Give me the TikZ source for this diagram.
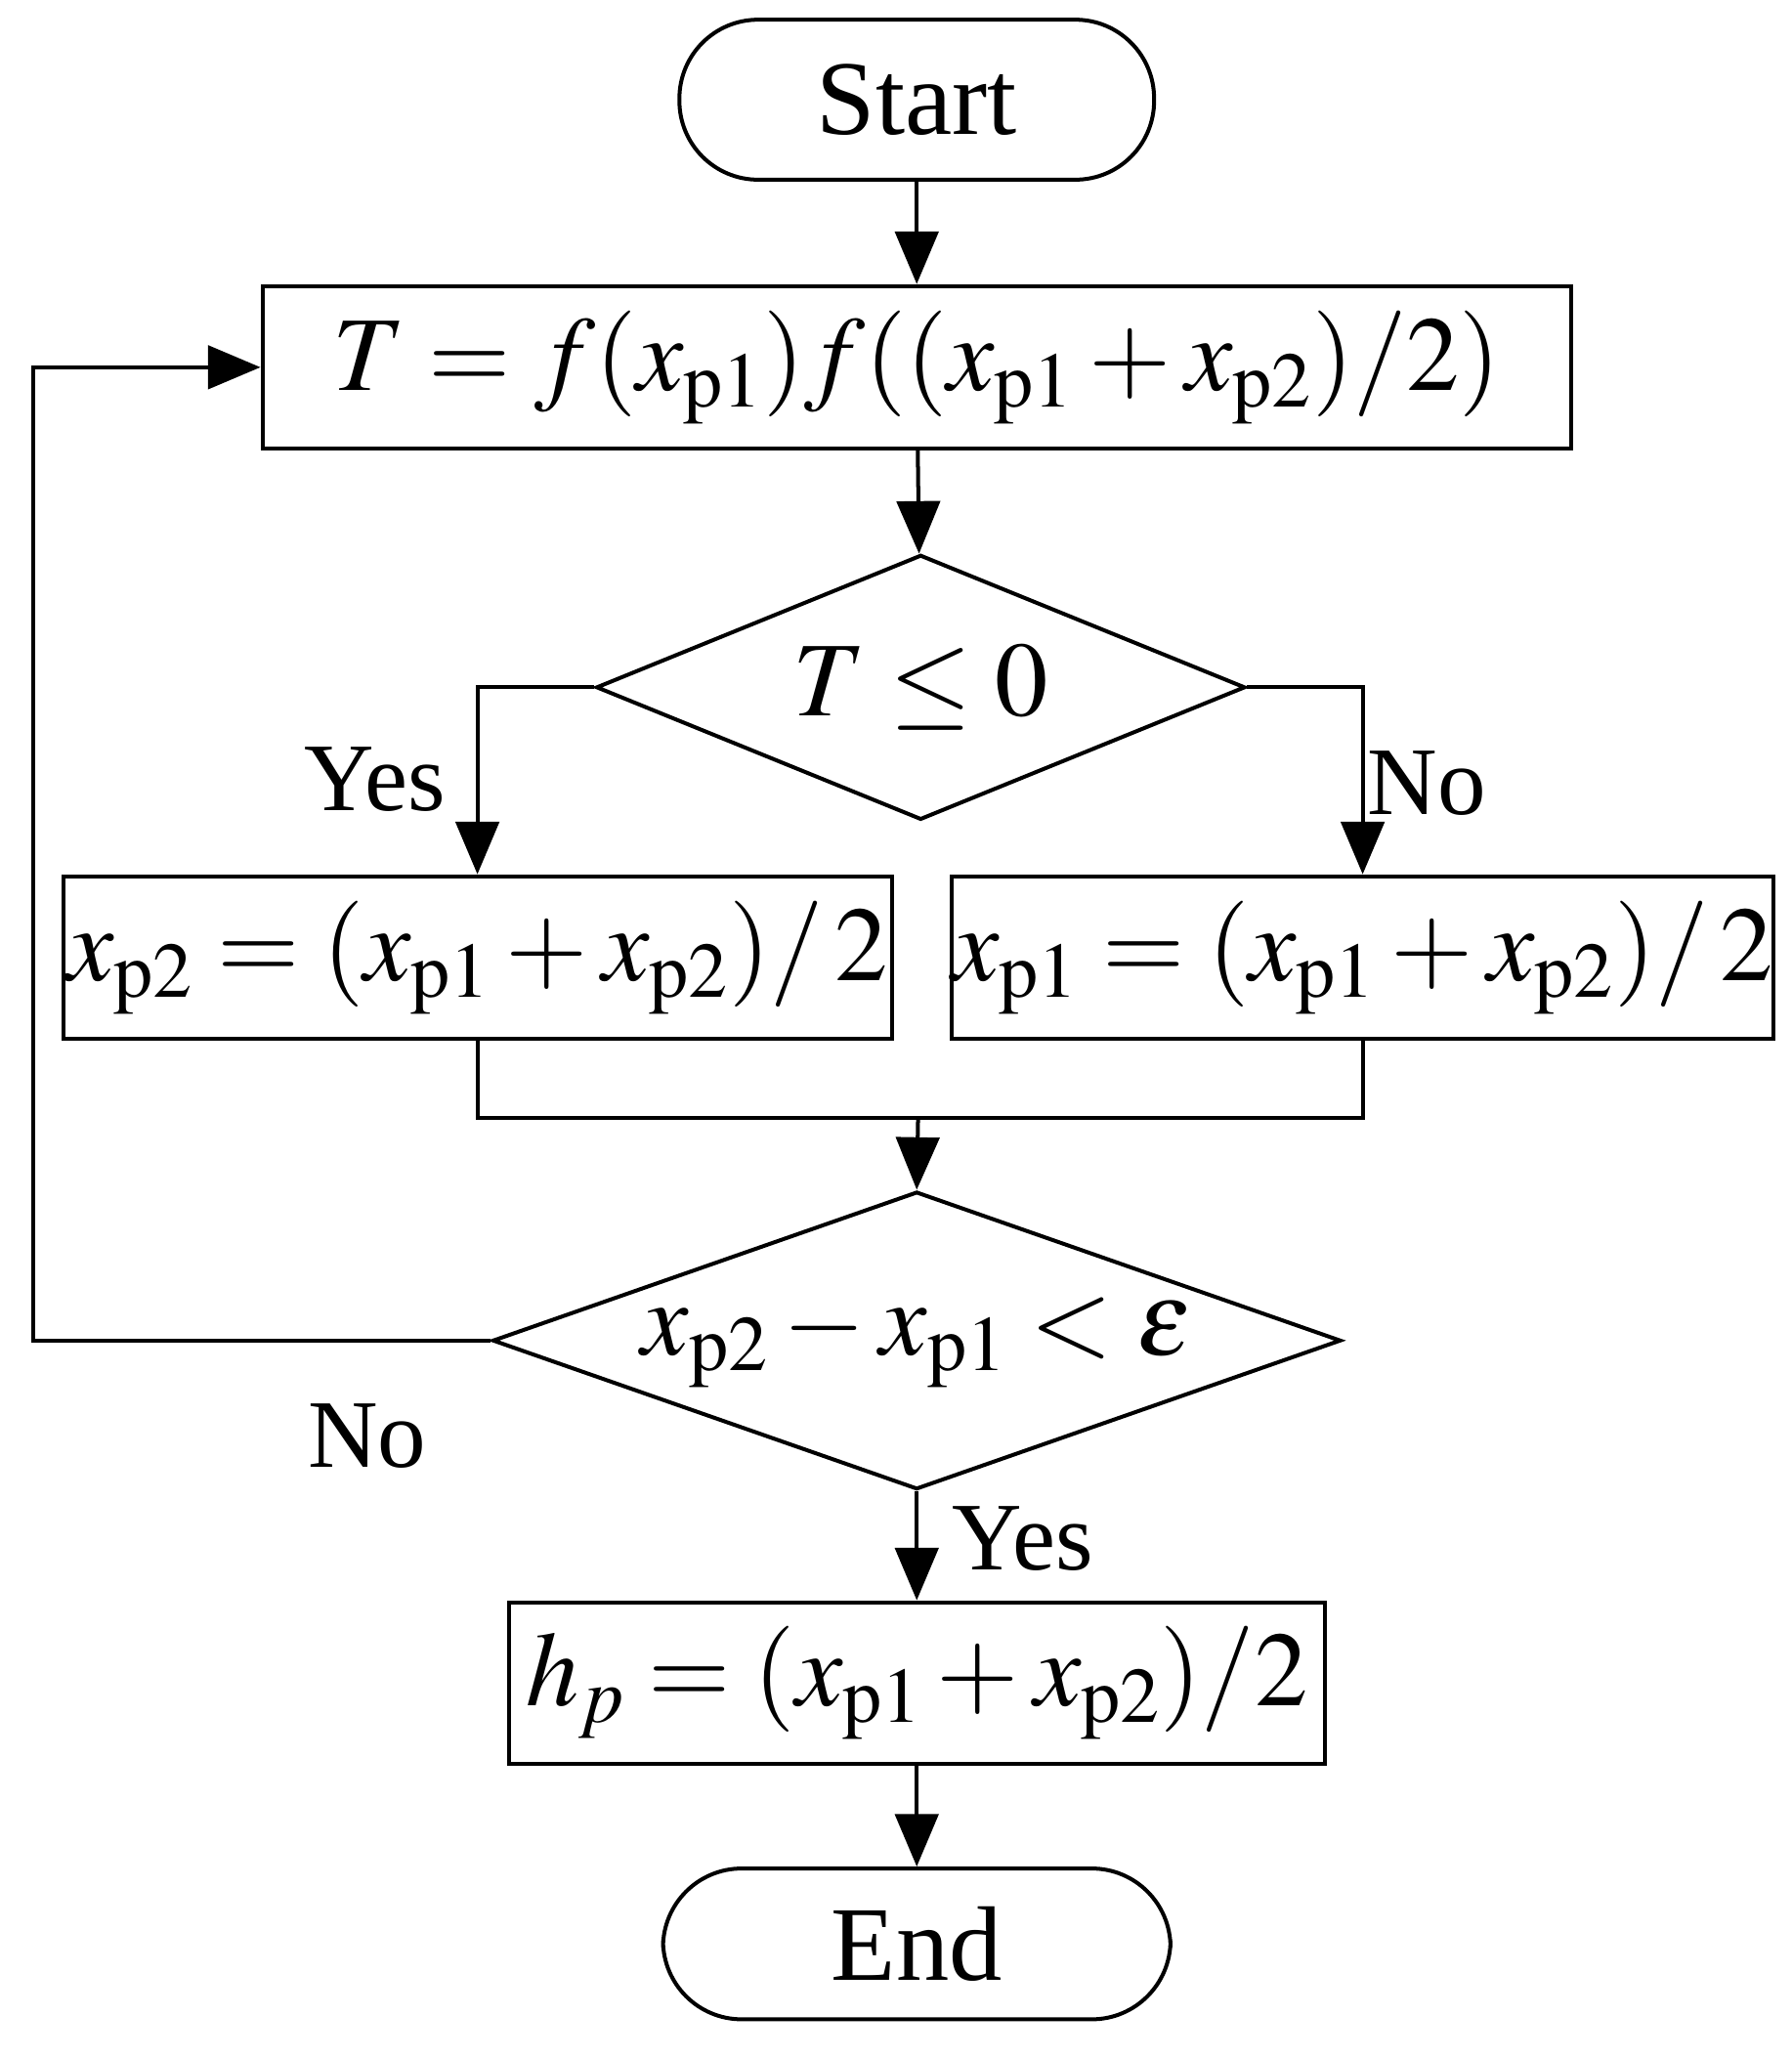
\documentclass[tikz,border=0pt]{standalone}
\usepackage{mathptmx}
\usepackage[no-math]{fontspec}
\setmainfont{Liberation Serif}
\usetikzlibrary{shapes.geometric,arrows.meta}
\begin{document}
\begin{tikzpicture}[x=0.02cm,y=-0.02cm,line width=1.7pt,
  every node/.style={font=\fontsize{46}{54}\selectfont},
  box/.style={draw,rectangle,inner sep=0pt},
  term/.style={draw,rounded corners=1.2cm,inner sep=0pt},
  dia/.style={draw,diamond,inner sep=0pt},
  arr/.style={-{Triangle[length=0.8cm,width=0.66cm]}},
  lab/.style={inner sep=0pt,font=\fontsize{42}{50}\selectfont}]
\useasboundingbox (0,0) rectangle (1366,1569);
\node[term,minimum width=7.24cm,minimum height=2.44cm] (start) at (699,76) {Start};
\node[box,minimum width=19.96cm,minimum height=2.48cm] (b1) at (699,280) {$T=f(x_{\mathrm{p1}})f((x_{\mathrm{p1}}+x_{\mathrm{p2}})/2)$};
\node[dia,minimum width=9.9cm,minimum height=4.04cm,aspect=2.45] (d1) at (702,524) {$T\le 0$};
\node[box,minimum width=12.64cm,minimum height=2.48cm] (yb) at (364,730) {$x_{\mathrm{p2}}=(x_{\mathrm{p1}}+x_{\mathrm{p2}})/\,2$};
\node[box,minimum width=12.48cm,minimum height=2.48cm] (nb) at (1039,730) {$x_{\mathrm{p1}}=(x_{\mathrm{p1}}+x_{\mathrm{p2}})/\,2$};
\node[dia,minimum width=12.94cm,minimum height=4.54cm,aspect=2.85] (d2) at (699,1022) {$x_{\mathrm{p2}}-x_{\mathrm{p1}}<\varepsilon$};
\node[box,minimum width=12.44cm,minimum height=2.46cm] (hb) at (699,1283) {$h_p=(x_{\mathrm{p1}}+x_{\mathrm{p2}})/2$};
\node[term,minimum width=7.74cm,minimum height=2.3cm] (end) at (699,1482) {End};
\coordinate (m) at (700,852);
\coordinate (lc) at (25,1022);
\node[lab] at (286,594) {Yes};
\node[lab] at (1088,597) {No};
\node[lab] at (280,1095) {No};
\node[lab] at (780,1173) {Yes};
\draw[arr] (start) -- (b1);
\draw[arr] (b1) -- (d1);
\draw[arr] (d1.west) -| (yb.north);
\draw[arr] (d1.east) -| (nb.north);
\draw (yb.south) |- (m) -| (nb.south);
\draw[arr] (m) -- (d2.north);
\draw[arr] (d2.west) -- (lc) |- (b1.west);
\draw[arr] (d2.south) -- (hb.north);
\draw[arr] (hb) -- (end);
\end{tikzpicture}
\end{document}
